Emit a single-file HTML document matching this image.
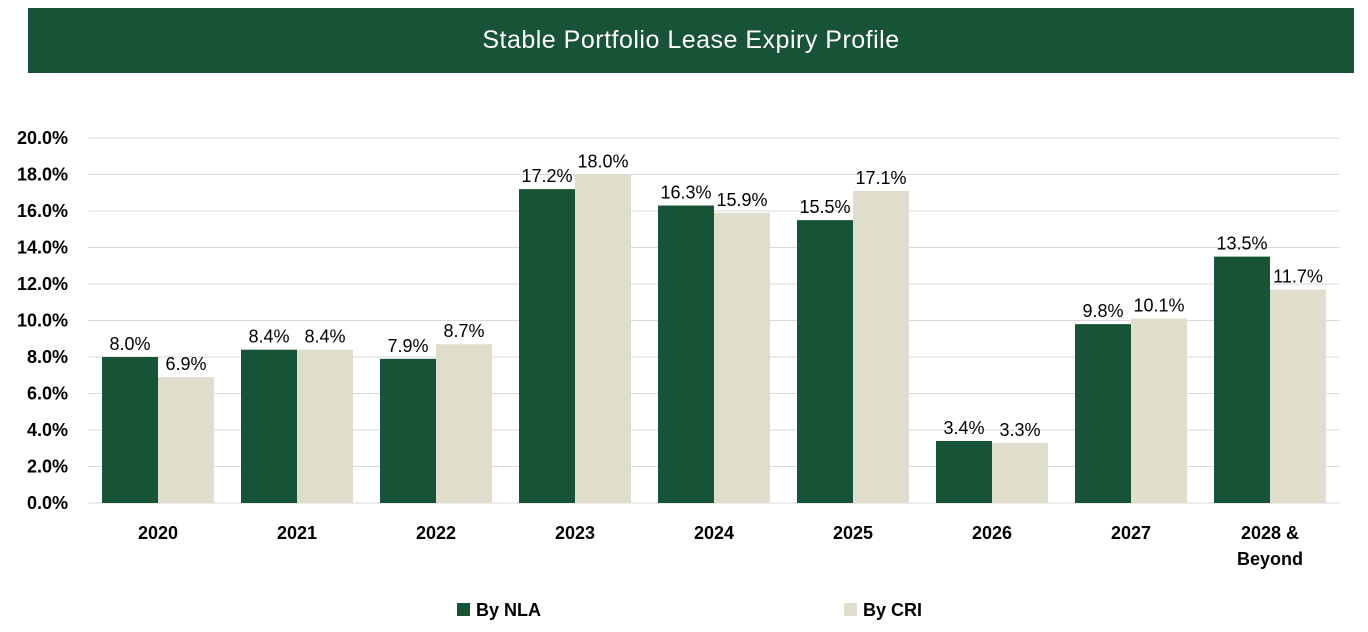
<!DOCTYPE html>
<html><head><meta charset="utf-8"><style>
body{margin:0;width:1368px;height:632px;background:#fff;overflow:hidden;font-family:"Liberation Sans",sans-serif}
#banner{position:absolute;left:28px;top:8px;width:1326px;height:65px;background:#175336;color:#fff;font-size:25px;text-align:center;line-height:65px;letter-spacing:0.5px}
svg{position:absolute;left:0;top:0}
</style></head><body>
<div id="banner">Stable Portfolio Lease Expiry Profile</div>
<svg id="c" width="1368" height="632"></svg>
<script>
const categories=["2020","2021","2022","2023","2024","2025","2026","2027","2028 &|Beyond"];
const nla=[8.0,8.4,7.9,17.2,16.3,15.5,3.4,9.8,13.5];
const cri=[6.9,8.4,8.7,18.0,15.9,17.1,3.3,10.1,11.7];
const ticks=[0,2,4,6,8,10,12,14,16,18,20];
const NS="http://www.w3.org/2000/svg",svg=document.getElementById('c');
const L=88.5,R=1339.5,Y0=503,Y20=138;
const y=v=>Y0-(v/20)*(Y0-Y20);
const step=(R-L)/categories.length;
function mk(t,a,txt){const e=document.createElementNS(NS,t);for(const k in a)e.setAttribute(k,a[k]);if(txt!=null)e.textContent=txt;svg.appendChild(e);return e;}
ticks.forEach(t=>{
 if(t>0){const g=mk('line',{x1:L,x2:R,y1:y(t),y2:y(t),stroke:'#d9d9d9','stroke-width':1});
 
 }
 const l=mk('text',{x:68,y:y(t)+6,'text-anchor':'end','font-size':18,'font-weight':'bold',fill:'#000'},t.toFixed(1)+'%');
 
 
});
const ax=mk('line',{x1:L,x2:R,y1:Y0,y2:Y0,stroke:'#d9d9d9','stroke-width':1});


const bw=56;
categories.forEach((c,i)=>{
 const cx=L+step*(i+0.5);
 [[nla[i],'#175336',cx-bw,'bar-nla'],[cri[i],'#dfddcb',cx,'bar-cri']].forEach(([v,col,x,n])=>{
  const b=mk('rect',{x:x,y:y(v),width:bw,height:Y0-y(v),fill:col});
  
  
  const t=mk('text',{x:x+bw/2,y:y(v)-7,'text-anchor':'middle','font-size':18,fill:'#000'},v.toFixed(1)+'%');
  
  
 });
 c.split('|').forEach((p,j)=>{
  const t=mk('text',{x:cx,y:539+j*26,'text-anchor':'middle','font-size':18,'font-weight':'bold',fill:'#000'},p);
  
  
 });
});
[['#175336',457,'By NLA','legend-entry-nla'],['#dfddcb',844,'By CRI','legend-entry-cri']].forEach(([col,x,txt,n])=>{
 const s=mk('rect',{x:x,y:603,width:13,height:13,fill:col});
 
 
 const t=mk('text',{x:x+19,y:616,'font-size':18,'font-weight':'bold',fill:'#000'},txt);
 
 
});
</script>
</body></html>
